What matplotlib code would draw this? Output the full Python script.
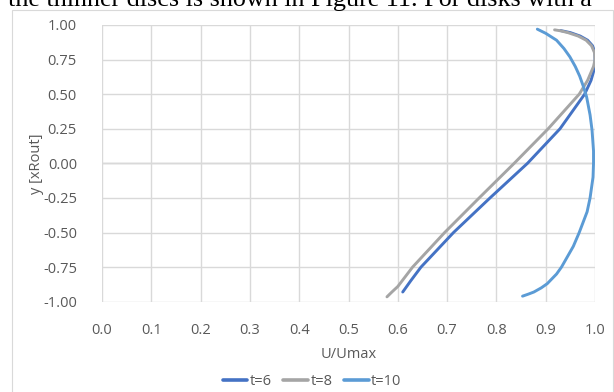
import matplotlib
matplotlib.use("Agg")
import matplotlib.pyplot as plt
from matplotlib.patches import Rectangle

# velocity profiles across the gap, U/Umax against y
y_t6 = [-0.93, -0.85, -0.75, -0.5, -0.25, 0.0, 0.25, 0.5, 0.6, 0.7, 0.75, 0.8, 0.85, 0.89, 0.92, 0.945, 0.96]
u_t6 = [0.610, 0.626, 0.647, 0.713, 0.787, 0.863, 0.929, 0.979, 0.992, 1.0, 1.0, 1.0, 0.995, 0.985, 0.970, 0.950, 0.930]

y_t8 = [-0.965, -0.93, -0.89, -0.75, -0.5, -0.25, 0.0, 0.25, 0.5, 0.6, 0.7, 0.75, 0.8, 0.85, 0.89, 0.92, 0.945, 0.958, 0.965]
u_t8 = [0.578, 0.588, 0.600, 0.630, 0.695, 0.765, 0.836, 0.905, 0.968, 0.985, 0.997, 1.0, 0.999, 0.993, 0.982, 0.966, 0.945, 0.930, 0.918]

y_t10 = [0.97, 0.94, 0.89, 0.83, 0.77, 0.70, 0.63, 0.55, 0.48, 0.35, 0.24, 0.09, 0.0,
         -0.1, -0.25, -0.35, -0.5, -0.6, -0.75, -0.8, -0.87, -0.9, -0.93, -0.945, -0.96]
u_t10 = [0.883, 0.900, 0.922, 0.937, 0.949, 0.960, 0.969, 0.977, 0.983, 0.990, 0.994, 0.997, 0.997,
         0.996, 0.990, 0.984, 0.968, 0.956, 0.932, 0.922, 0.903, 0.891, 0.876, 0.865, 0.853]

labels = ["t=6", "t=8", "t=10"]
colors = ["#4472C4", "#A5A5A5", "#5B9BD5"]

x_ticks = [0.0, 0.1, 0.2, 0.3, 0.4, 0.5, 0.6, 0.7, 0.8, 0.9, 1.0]
y_ticks = [-1.0, -0.75, -0.5, -0.25, 0.0, 0.25, 0.5, 0.75, 1.0]

W, H = 614, 392
fig = plt.figure(figsize=(W / 100, H / 100), dpi=100)
fig.patch.set_facecolor("white")

# line of body text above the chart, cut off by the page edge
fig.text(8 / W, 1 - 6 / H, "the thinner discs is shown in Figure 11. For disks with a",
         fontsize=18.8, family="Liberation Serif", color="black", va="baseline", ha="left")

# chart border
fig.patches.append(Rectangle((12 / W, -0.01), 601 / W, 1.01 - 10 / H, transform=fig.transFigure,
                             fill=False, edgecolor="#D9D9D9", lw=0.8))

ax = fig.add_axes([102 / W, 1 - 301.7 / H, 493 / W, 276.7 / H])
for u, y, lab, c in zip([u_t6, u_t8, u_t10], [y_t6, y_t8, y_t10], labels, colors):
    ax.plot(u, y, color=c, lw=2.1, label=lab, solid_capstyle="round",
            solid_joinstyle="round", zorder=3)

ax.set_xlim(0, 1)
ax.set_ylim(-1, 1)
ax.set_xticks(x_ticks)
ax.set_yticks(y_ticks)
ax.set_xticklabels([f"{v:.1f}" for v in x_ticks])
ax.set_yticklabels([f"{v:.2f}" for v in y_ticks])
ax.grid(True, color="#D9D9D9", lw=1)
ax.axhline(0, color="#BFBFBF", lw=1, zorder=1)
for s in ax.spines.values():
    s.set_visible(False)
ax.tick_params(length=0, labelsize=10.5, labelcolor="#595959")
ax.tick_params(axis="x", pad=15)
ax.tick_params(axis="y", pad=18)
for t in ax.get_xticklabels() + ax.get_yticklabels():
    t.set_family("Open Sans")

ax.set_xlabel("U/Umax", fontsize=10.5, color="#595959", family="Open Sans", labelpad=7)
ax.set_ylabel("y [xRout]", fontsize=10.5, color="#595959", family="Open Sans", labelpad=-1)

# legend sits centred on the whole chart box, not the plot area
leg = ax.legend(loc="center", bbox_to_anchor=((312 - 102) / 493, -0.29), ncol=3, frameon=False,
                prop={"family": "Open Sans", "size": 10.5}, handlelength=1.7,
                handletextpad=0.15, columnspacing=0.8)
for t in leg.get_texts():
    t.set_color("#595959")
for h in leg.get_lines():
    h.set_linewidth(2.6)

fig.savefig("out.png", dpi=100)
